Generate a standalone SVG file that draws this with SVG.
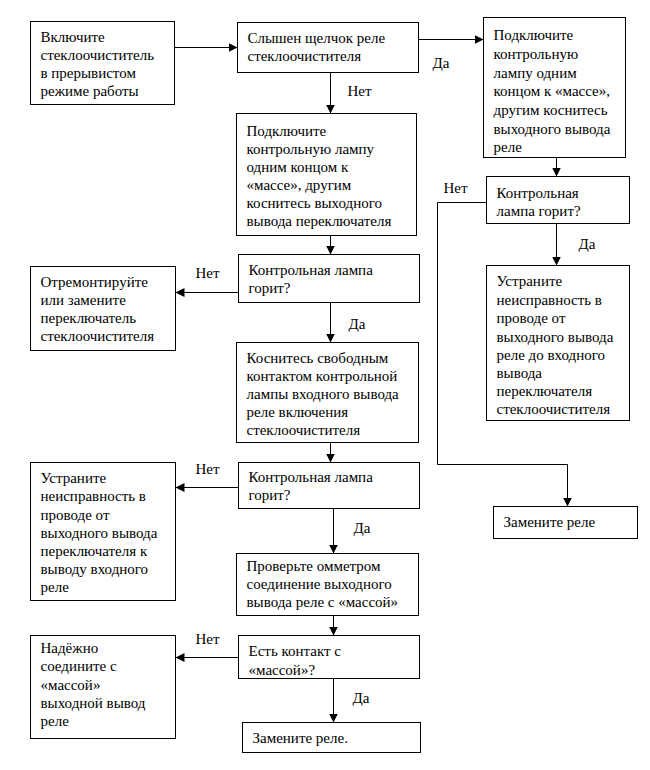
<svg xmlns="http://www.w3.org/2000/svg" width="650" height="770" viewBox="0 0 650 770">
<defs>
<marker id="ah" markerUnits="userSpaceOnUse" markerWidth="10" markerHeight="10" refX="9" refY="4.5" orient="auto">
<path d="M0,0 L9,4.5 L0,9 Z" fill="#000"/>
</marker>
<style>
rect{fill:#fff;stroke:#000;stroke-width:1}
.c path{fill:none;stroke:#000;stroke-width:1;marker-end:url(#ah)}
</style>
</defs>
<rect x="0" y="0" width="650" height="770" style="stroke:none"/>
<g transform="translate(0.5,0.5)" font-family="Liberation Serif, Times New Roman, DejaVu Serif, serif" font-size="15" fill="#000">
<g class="c" id="connectors">
<path d="M174,47 H237"/>
<path d="M418,39 H483"/>
<path d="M330,72 V113"/>
<path d="M556,157 V176"/>
<path d="M486,202 H437 V464 H567 V506"/>
<path d="M556,223 V265"/>
<path d="M330,235 V254"/>
<path d="M238,292 H175"/>
<path d="M330,302 V342"/>
<path d="M330,442 V462"/>
<path d="M238,487 H175"/>
<path d="M333,508 V553"/>
<path d="M333,615 V635"/>
<path d="M238,657 H175"/>
<path d="M333,678 V722"/>
<text x="432" y="67">Да</text>
<text x="347" y="95">Нет</text>
<text x="443" y="192">Нет</text>
<text x="578" y="248">Да</text>
<text x="195" y="277">Нет</text>
<text x="348" y="328">Да</text>
<text x="195" y="473">Нет</text>
<text x="353" y="532">Да</text>
<text x="195" y="643">Нет</text>
<text x="352" y="702">Да</text>
</g>
<g id="n1"><rect x="30" y="21" width="144" height="83"/>
<text x="40" y="41">Включите</text><text x="40" y="59">стеклоочиститель</text><text x="40" y="77">в прерывистом</text><text x="40" y="95">режиме работы</text></g>
<g id="n2"><rect x="237" y="22" width="181" height="50"/>
<text x="247" y="42">Слышен щелчок реле</text><text x="247" y="60">стеклоочистителя</text></g>
<g id="n3"><rect x="483" y="17" width="142" height="140"/>
<text x="493" y="39">Подключите</text><text x="493" y="58">контрольную</text><text x="493" y="77">лампу одним</text><text x="493" y="95">концом к «массе»,</text><text x="493" y="114">другим коснитесь</text><text x="493" y="133">выходного вывода</text><text x="493" y="151">реле</text></g>
<g id="n4"><rect x="486" y="176" width="143" height="47"/>
<text x="496" y="197">Контрольная</text><text x="496" y="215">лампа горит?</text></g>
<g id="n5"><rect x="486" y="265" width="143" height="155"/>
<text x="496" y="285">Устраните</text><text x="496" y="304">неисправность в</text><text x="496" y="322">проводе от</text><text x="496" y="341">выходного вывода</text><text x="496" y="359">реле до входного</text><text x="496" y="377">вывода</text><text x="496" y="395">переключателя</text><text x="496" y="413">стеклоочистителя</text></g>
<g id="n6"><rect x="493" y="506" width="144" height="32"/>
<text x="503" y="526">Замените реле</text></g>
<g id="n7"><rect x="236" y="113" width="180" height="122"/>
<text x="246" y="135">Подключите</text><text x="246" y="153">контрольную лампу</text><text x="246" y="171">одним концом к</text><text x="246" y="189">«массе», другим</text><text x="246" y="207">коснитесь выходного</text><text x="246" y="225">вывода переключателя</text></g>
<g id="n8"><rect x="238" y="254" width="181" height="48"/>
<text x="248" y="274">Контрольная лампа</text><text x="248" y="292">горит?</text></g>
<g id="n9"><rect x="30" y="266" width="145" height="84"/>
<text x="40" y="286">Отремонтируйте</text><text x="40" y="304">или замените</text><text x="40" y="322">переключатель</text><text x="40" y="340">стеклоочистителя</text></g>
<g id="n10"><rect x="236" y="342" width="182" height="100"/>
<text x="246" y="362">Коснитесь свободным</text><text x="246" y="380">контактом контрольной</text><text x="246" y="398">лампы входного вывода</text><text x="246" y="416">реле включения</text><text x="246" y="434">стеклоочистителя</text></g>
<g id="n11"><rect x="238" y="462" width="181" height="46"/>
<text x="248" y="481">Контрольная лампа</text><text x="248" y="499">горит?</text></g>
<g id="n12"><rect x="30" y="462" width="145" height="138"/>
<text x="40" y="482">Устраните</text><text x="40" y="500">неисправность в</text><text x="40" y="519">проводе от</text><text x="40" y="537">выходного вывода</text><text x="40" y="555">переключателя к</text><text x="40" y="573">выводу входного</text><text x="40" y="591">реле</text></g>
<g id="n13"><rect x="236" y="553" width="182" height="62"/>
<text x="246" y="570">Проверьте омметром</text><text x="246" y="588">соединение выходного</text><text x="246" y="606">вывода реле с «массой»</text></g>
<g id="n14"><rect x="238" y="635" width="181" height="43"/>
<text x="248" y="655">Есть контакт с</text><text x="248" y="674">«массой»?</text></g>
<g id="n15"><rect x="30" y="635" width="145" height="103"/>
<text x="40" y="652">Надёжно</text><text x="40" y="670">соедините с</text><text x="40" y="689">«массой»</text><text x="40" y="707">выходной вывод</text><text x="40" y="725">реле</text></g>
<g id="n16"><rect x="242" y="722" width="178" height="30"/>
<text x="252" y="742">Замените реле.</text></g>
</g>
</svg>
